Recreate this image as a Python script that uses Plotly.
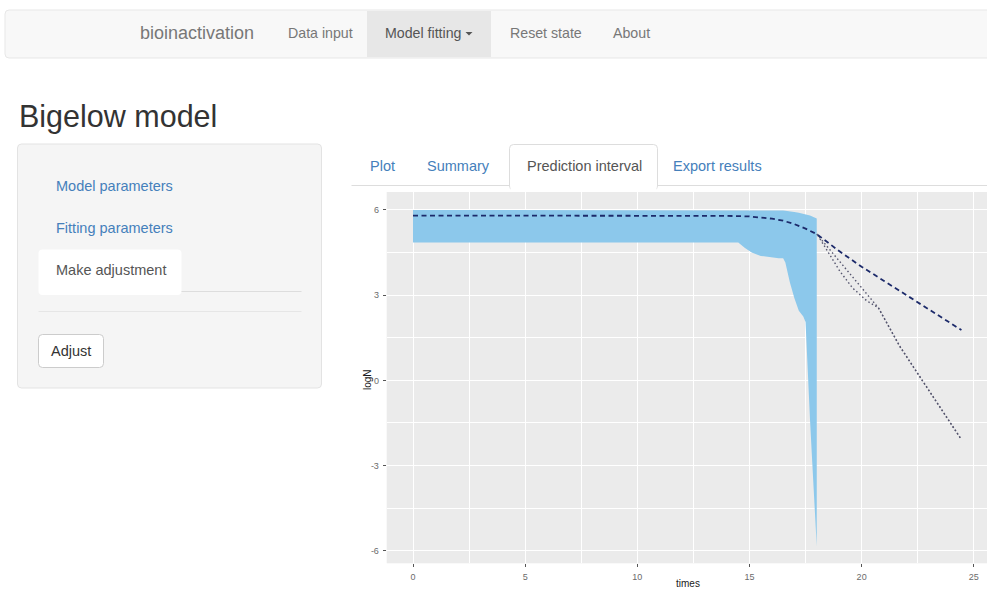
import plotly.graph_objects as go

W, H = 987, 589

# Prediction interval (quantile band) of logN over time
times = [0, 14.5, 14.8, 15.1, 15.5, 16.0, 16.3, 16.5, 16.6, 16.8, 17.0,
         17.2, 17.4, 17.5, 17.6, 17.7, 17.8, 17.9, 18.0]
upper = [6.0, 6.0, 6.0, 6.0, 6.0, 6.0, 6.0, 5.98, 5.97, 5.96, 5.93,
         5.9, 5.87, 5.85, 5.82, 5.8, 5.77, 5.74, 5.7]
lower = [4.85, 4.85, 4.66, 4.5, 4.38, 4.32, 4.3, 4.3, 4.15, 3.45, 2.9,
         2.45, 2.25, 2.05, 0.1, -1.4, -2.9, -4.35, -5.85]

# Mean prediction (dashed)
mean_times = [0, 5, 10, 14, 15, 15.5, 16, 16.5, 17, 17.5, 18, 19, 20, 21, 22, 23, 24.45]
mean_logN = [5.8, 5.8, 5.8, 5.79, 5.77, 5.74, 5.69, 5.62, 5.5, 5.34, 5.15,
             4.55, 4.0, 3.5, 3.0, 2.5, 1.77]

# Median predictions (dotted)
med_a_times = [18, 19, 20, 20.75, 21.7, 22.7, 23.5, 24.42]
med_a_logN = [5.15, 4.2, 3.25, 2.55, 1.2, 0.0, -0.95, -2.05]
med_b_times = [18.05, 19.04, 19.6, 20.23, 20.75, 21.7, 22.7, 23.5, 24.42]
med_b_logN = [5.1, 3.83, 3.25, 2.8, 2.55, 1.2, 0.0, -0.95, -2.05]

x_ticks = [0, 5, 10, 15, 20, 25]
y_ticks = [-6, -3, 0, 3, 6]

nav_items = ["Data input", "Model fitting", "Reset state", "About"]
side_links = ["Model parameters", "Fitting parameters"]
tab_labels = ["Plot", "Summary", "Prediction interval", "Export results"]

FONT = "Liberation Sans, Arial, Helvetica, sans-serif"


def X(p):
    return p / W


def Y(p):
    return 1 - p / H


def rounded_path(x0, y0, x1, y1, r):
    return (f"M {X(x0 + r)},{Y(y0)} L {X(x1 - r)},{Y(y0)} "
            f"Q {X(x1)},{Y(y0)} {X(x1)},{Y(y0 + r)} L {X(x1)},{Y(y1 - r)} "
            f"Q {X(x1)},{Y(y1)} {X(x1 - r)},{Y(y1)} L {X(x0 + r)},{Y(y1)} "
            f"Q {X(x0)},{Y(y1)} {X(x0)},{Y(y1 - r)} L {X(x0)},{Y(y0 + r)} "
            f"Q {X(x0)},{Y(y0)} {X(x0 + r)},{Y(y0)} Z")


shapes = []
annotations = []


def add_rounded(x0, y0, x1, y1, r, fill, line_color, lw=1):
    shapes.append(dict(type="path", xref="paper", yref="paper",
                       path=rounded_path(x0, y0, x1, y1, r),
                       fillcolor=fill, line=dict(color=line_color, width=lw),
                       layer="below"))


def add_rect(x0, y0, x1, y1, fill, line_color=None, lw=0):
    shapes.append(dict(type="rect", xref="paper", yref="paper",
                       x0=X(x0), x1=X(x1), y0=Y(y1), y1=Y(y0),
                       fillcolor=fill,
                       line=dict(color=line_color or fill, width=lw),
                       layer="below"))


def add_line(x0, y0, x1, y1, color, lw=1):
    shapes.append(dict(type="line", xref="paper", yref="paper",
                       x0=X(x0), x1=X(x1), y0=Y(y0), y1=Y(y1),
                       line=dict(color=color, width=lw), layer="below"))


def add_text(x, y, text, size, color, xanchor="left", angle=0):
    annotations.append(dict(x=X(x), y=Y(y), xref="paper", yref="paper",
                            text=text, showarrow=False, xanchor=xanchor,
                            yanchor="middle", textangle=angle,
                            font=dict(family=FONT, size=size, color=color)))


# Navbar
add_rounded(5, 10, 992, 58, 4, "#f8f8f8", "#e7e7e7")
add_rect(367, 11, 491, 57, "#e7e7e7")
add_text(138, 33, "bioinactivation", 18, "#777777")
nav_x = [286, 383, 508, 611]
for label, xpos in zip(nav_items, nav_x):
    add_text(xpos, 33, label, 14.2, "#555555" if label == "Model fitting" else "#777777")
shapes.append(dict(type="path", xref="paper", yref="paper",
                   path=f"M {X(465.5)},{Y(32)} L {X(472.5)},{Y(32)} L {X(469)},{Y(35.5)} Z",
                   fillcolor="#555555", line=dict(width=0), layer="below"))

# Page heading
add_text(17, 117, "Bigelow model", 30.5, "#333333")

# Sidebar well
add_rounded(17.5, 144, 321.5, 388, 4, "#f5f5f5", "#e3e3e3")
for label, ypos in zip(side_links, [186, 228]):
    add_text(54, ypos, label, 14.5, "#4580bb")
add_rounded(38.5, 249.5, 181.5, 295, 4, "#ffffff", "#ffffff", 0)
add_line(181.5, 291.5, 301.5, 291.5, "#dddddd")
add_text(54, 270, "Make adjustment", 14.5, "#555555")
add_line(38.5, 311.5, 301.5, 311.5, "#e6e6e6")
add_rounded(38.5, 334.5, 103.5, 367.5, 4, "#ffffff", "#cccccc")
add_text(71, 351, "Adjust", 14.5, "#333333", xanchor="center")

# Tabs above the plot
add_line(351.5, 185.5, 509.5, 185.5, "#dddddd")
add_line(657.5, 185.5, 987, 185.5, "#dddddd")
add_rounded(509.5, 144.5, 657.5, 190, 4, "#ffffff", "#dddddd")
add_rect(510.5, 184, 656.5, 191, "#ffffff")
tab_x = [382, 458, 584, 717]
for label, xpos in zip(tab_labels, tab_x):
    add_text(xpos, 165.5, label, 14.5,
             "#555555" if label == "Prediction interval" else "#4580bb",
             xanchor="center")

# Axis titles
add_text(367, 380, "logN", 10, "#1a1a1a", xanchor="center", angle=-90)
add_text(688, 583, "times", 10, "#1a1a1a", xanchor="center")

fig = go.Figure()

fig.add_trace(go.Scatter(x=times, y=lower, mode="lines", line=dict(width=0),
                         hoverinfo="skip", showlegend=False))
fig.add_trace(go.Scatter(x=times, y=upper, mode="lines", line=dict(width=0),
                         fill="tonexty", fillcolor="rgb(140,200,235)",
                         name="interval", showlegend=False))
fig.add_trace(go.Scatter(x=med_a_times, y=med_a_logN, mode="lines",
                         line=dict(color="#55556e", width=1.4, dash="1.5px,2.5px"),
                         name="median", showlegend=False))
fig.add_trace(go.Scatter(x=med_b_times, y=med_b_logN, mode="lines",
                         line=dict(color="#55556e", width=1.4, dash="1.5px,2.5px"),
                         name="median", showlegend=False))
fig.add_trace(go.Scatter(x=mean_times, y=mean_logN, mode="lines",
                         line=dict(color="#1c2a6a", width=1.8, dash="5px,3.5px"),
                         name="mean", showlegend=False))

axis_common = dict(showgrid=True, gridcolor="#ffffff", gridwidth=1.1,
                   zeroline=False, showline=False, ticks="outside", ticklen=3,
                   tickwidth=1, tickcolor="#555555",
                   tickfont=dict(family=FONT, size=9, color="#6b6b6b"))

fig.update_layout(
    width=W, height=H, autosize=False,
    margin=dict(l=0, r=0, t=0, b=0),
    paper_bgcolor="#ffffff", plot_bgcolor="#ebebeb",
    shapes=shapes, annotations=annotations,
    xaxis=dict(domain=[386.7 / W, 1], range=[-1.173, 25.59],
               tickvals=x_ticks, ticktext=[str(v) for v in x_ticks],
               minor=dict(dtick=2.5, tick0=0, showgrid=True,
                          gridcolor="#ffffff", gridwidth=0.5),
               ticklabelstandoff=2, **axis_common),
    yaxis=dict(domain=[1 - 563.3 / H, 1 - 192 / H], range=[-6.44, 6.63],
               tickvals=y_ticks, ticktext=[str(v) for v in y_ticks],
               minor=dict(dtick=1.5, tick0=0, showgrid=True,
                          gridcolor="#ffffff", gridwidth=0.5),
               ticklabelstandoff=2, **axis_common),
    hovermode=False,
)

fig.write_html("out.html")
